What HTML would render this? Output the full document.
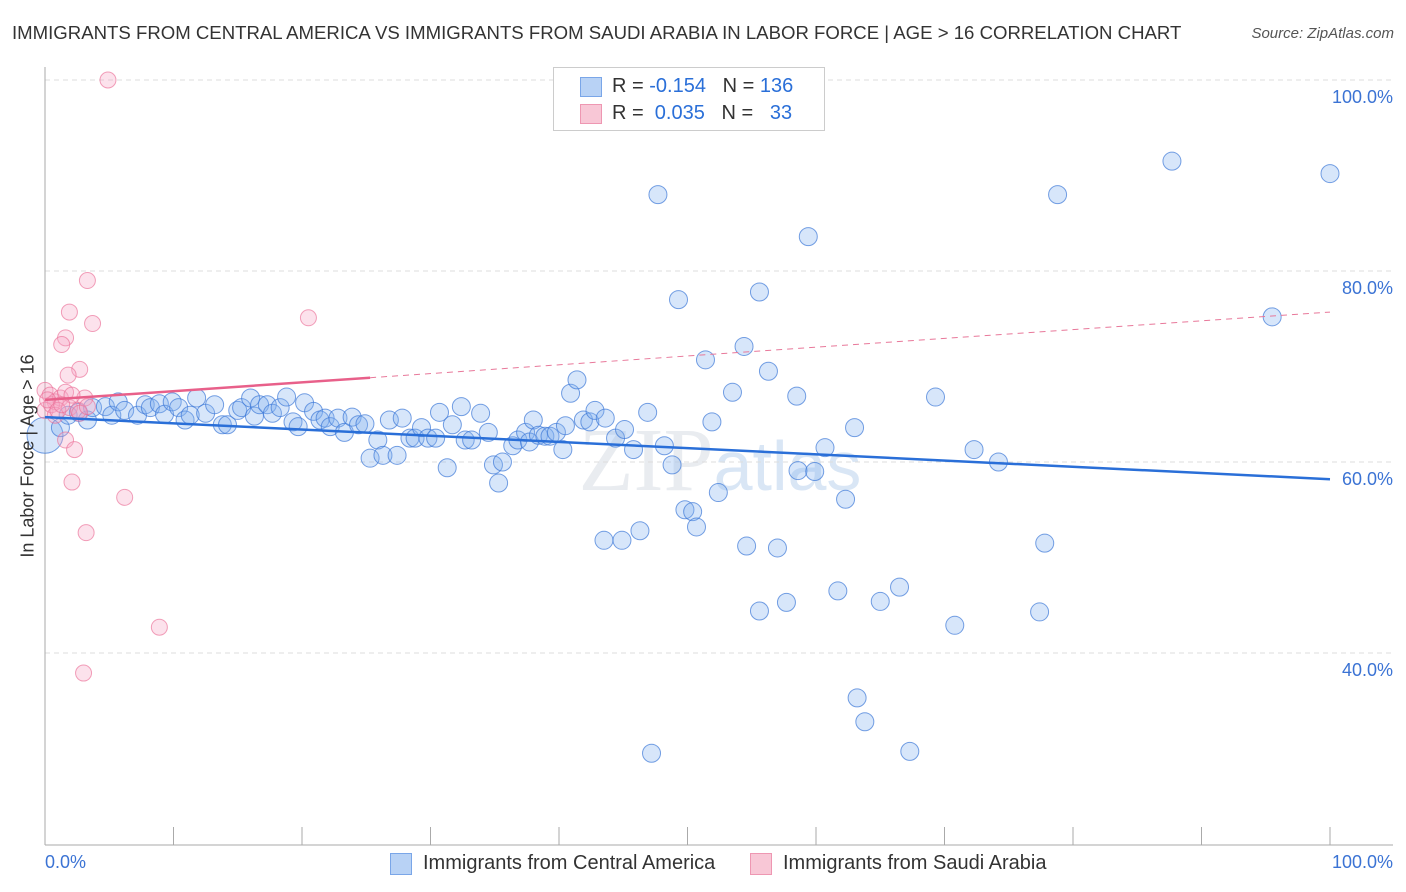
<!DOCTYPE html>
<html><head><meta charset="utf-8">
<style>
body{margin:0;background:#fff;font-family:"Liberation Sans",sans-serif;}
#wrap{position:relative;width:1406px;height:892px;overflow:hidden;}
.t{position:absolute;white-space:nowrap;}
</style></head>
<body>
<div id="wrap">
<div class="t" style="left:12px;top:22px;font-size:18.6px;color:#333;">IMMIGRANTS FROM CENTRAL AMERICA VS IMMIGRANTS FROM SAUDI ARABIA IN LABOR FORCE | AGE &gt; 16 CORRELATION CHART</div>
<div class="t" style="right:12px;top:25px;font-size:15px;color:#555;font-style:italic;">Source: ZipAtlas.com</div>
<svg id="chart" width="1406" height="892" style="position:absolute;left:0;top:0"></svg>
</div>
<script>
const blueX=[0,1.2,1.8,2.6,3.3,3.7,4.7,5.2,5.7,6.2,7.2,7.8,8.2,8.9,9.3,9.9,10.4,10.9,11.3,11.8,12.5,13.2,13.8,14.2,15.0,15.3,16.0,16.3,16.7,17.3,17.7,18.3,18.8,19.3,19.7,20.2,20.9,21.4,21.8,22.2,22.8,23.3,23.9,24.4,24.9,25.3,25.9,26.3,26.8,27.4,27.8,28.4,28.8,29.3,29.8,30.4,30.7,31.3,31.7,32.4,32.7,33.2,33.9,34.5,34.9,35.3,35.6,36.4,36.8,37.4,37.7,38.0,38.4,38.9,39.3,39.8,40.3,40.5,40.9,41.4,41.9,42.4,42.8,43.6,44.4,45.1,45.8,46.9,47.7,48.2,48.8,49.3,49.8,50.4,50.7,51.4,51.9,52.4,53.5,54.4,55.6,56.3,58.5,59.4,60.7,62.3,63.0,69.3,72.3,74.2,78.8,87.7,95.5,100,43.5,44.9,46.3,54.6,57.0,58.6,59.9,55.6,57.7,61.7,65.0,66.5,70.8,77.4,77.8,63.2,63.8,67.3,47.2];
const blueY=[62.8,63.6,64.9,65.2,64.4,65.7,65.8,64.9,66.3,65.4,64.9,66.0,65.7,66.1,65.0,66.3,65.7,64.4,64.9,66.7,65.1,66.0,63.9,63.9,65.4,65.7,66.7,64.8,66.0,66.0,65.1,65.7,66.8,64.2,63.7,66.2,65.3,64.4,64.6,63.7,64.6,63.1,64.7,63.9,64.0,60.4,62.3,60.7,64.4,60.7,64.6,62.5,62.5,63.6,62.5,62.5,65.2,59.4,63.9,65.8,62.3,62.3,65.1,63.1,59.7,57.8,60.0,61.7,62.3,63.1,62.1,64.4,62.8,62.7,62.7,63.1,61.3,63.8,67.2,68.6,64.4,64.2,65.4,64.6,62.5,63.4,61.3,65.2,88.0,61.7,59.7,77.0,55.0,54.8,53.2,70.7,64.2,56.8,67.3,72.1,77.8,69.5,66.9,83.6,61.5,56.1,63.6,66.8,61.3,60.0,88.0,91.5,75.2,90.2,51.8,51.8,52.8,51.2,51.0,59.1,59.0,44.4,45.3,46.5,45.4,46.9,42.9,44.3,51.5,35.3,32.8,29.7,29.5];
const pinkX=[4.9,3.3,1.9,3.7,20.5,1.6,1.3,2.7,1.8,0,0.4,0.8,1.2,0,0.5,1.9,2.6,3.1,1.6,2.3,2.1,6.2,3.2,8.9,3.0,0.8,0.2,1.0,1.6,2.1,2.7,3.3,1.3];
const pinkY=[100,79.0,75.7,74.5,75.1,73.0,72.3,69.7,69.1,67.5,67.0,66.3,66.7,65.4,66.0,65.7,65.4,66.7,62.3,61.3,57.9,56.3,52.6,42.7,37.9,64.9,66.5,65.4,67.3,67.0,65.1,65.8,66.0];
const blueTrend=[64.7,58.2];
const pinkTrend=[66.5,75.7];
const pinkSolidEnd=25.3;
const yTicks=[100,80,60,40];
const xTicks=[0,10,20,30,40,50,60,70,80,90,100];

const NS="http://www.w3.org/2000/svg";
const svg=document.getElementById('chart');
const X=v=>45+v*12.85;
const Y=v=>80+(100-v)*9.55;
function mk(tag,attrs,parent){const e=document.createElementNS(NS,tag);for(const k in attrs)e.setAttribute(k,attrs[k]);(parent||svg).appendChild(e);return e;}

const wm=mk('text',{x:720,y:490,'font-size':90,'text-anchor':'middle','font-family':'Liberation Serif, serif',fill:'#e9ecf0'});


wm.innerHTML='ZIP<tspan fill="#d9e6f5" font-family="Liberation Sans, sans-serif" font-size="70">atlas</tspan>';

yTicks.forEach(t=>{
  const g=mk('line',{x1:45,x2:1393,y1:Y(t),y2:Y(t),stroke:'#ddd','stroke-dasharray':'5,4'});
  
  
  const l=mk('text',{x:1393,y:Y(t)+23,'text-anchor':'end','font-size':18,fill:'#3b73d4'});
  
  
  l.textContent=t.toFixed(1)+'%';
});
const ax=mk('line',{x1:45,x2:45,y1:67,y2:845,stroke:'#aaa'});


const bx=mk('line',{x1:45,x2:1393,y1:845,y2:845,stroke:'#aaa'});


xTicks.forEach(t=>{
  const tk=mk('line',{x1:X(t),x2:X(t),y1:827,y2:845,stroke:'#aaa'});
  
  
});

blueX.forEach((v,i)=>{
  const c=mk('circle',{cx:X(v),cy:Y(blueY[i]),r:i==0?18:9,fill:'rgba(130,178,238,0.32)',stroke:'rgba(60,120,215,0.7)','stroke-width':1});
  
  
});
pinkX.forEach((v,i)=>{
  const c=mk('circle',{cx:X(v),cy:Y(pinkY[i]),r:8,fill:'rgba(245,165,195,0.32)',stroke:'rgba(235,110,150,0.65)','stroke-width':1});
  
  
});
const bl=mk('line',{x1:X(0),y1:Y(blueTrend[0]),x2:X(100),y2:Y(blueTrend[1]),stroke:'#2a6fd8','stroke-width':2.5});


const pe=pinkTrend[0]+(pinkTrend[1]-pinkTrend[0])*pinkSolidEnd/100;
const ps=mk('line',{x1:X(0),y1:Y(pinkTrend[0]),x2:X(pinkSolidEnd),y2:Y(pe),stroke:'#e8608a','stroke-width':2.5});


const pd=mk('line',{x1:X(pinkSolidEnd),y1:Y(pe),x2:X(100),y2:Y(pinkTrend[1]),stroke:'#e8789a','stroke-width':1,'stroke-dasharray':'6,5'});


</script>
<div class="t" style="left:28px;top:456px;font-size:18px;color:#333;transform:translate(-50%,-50%) rotate(-90deg);">In Labor Force | Age &gt; 16</div>
<div class="t" style="left:45px;top:852px;font-size:18px;color:#3b73d4;">0.0%</div>
<div class="t" style="right:13px;top:852px;font-size:18px;color:#3b73d4;">100.0%</div>
<div style="position:absolute;left:553px;top:67px;width:270px;height:62px;border:1px solid #ccc;background:#fff;font-size:20px;color:#333;">
  <div style="position:absolute;left:26px;top:9px;width:20px;height:18px;background:#b8d2f5;border:1px solid #7aa6e8;"></div>
  <div class="t" style="left:58px;top:7px;">R = <span style="color:#2a6fd8">-0.154</span>&nbsp;&nbsp;&nbsp;N = <span style="color:#2a6fd8">136</span></div>
  <div style="position:absolute;left:26px;top:36px;width:20px;height:18px;background:#f8c7d6;border:1px solid #ee97b2;"></div>
  <div class="t" style="left:58px;top:34px;">R = &nbsp;<span style="color:#2a6fd8">0.035</span>&nbsp;&nbsp;&nbsp;N = &nbsp;&nbsp;<span style="color:#2a6fd8">33</span></div>
</div>
<div style="position:absolute;left:390px;top:852px;font-size:20px;color:#333;">
  <div style="position:absolute;left:0;top:1px;width:20px;height:20px;background:#b8d2f5;border:1px solid #7aa6e8;"></div>
  <div class="t" style="left:33px;top:0;">Immigrants from Central America</div>
  <div style="position:absolute;left:360px;top:1px;width:20px;height:20px;background:#f8c7d6;border:1px solid #ee97b2;"></div>
  <div class="t" style="left:393px;top:0;">Immigrants from Saudi Arabia</div>
</div>
</body></html>
